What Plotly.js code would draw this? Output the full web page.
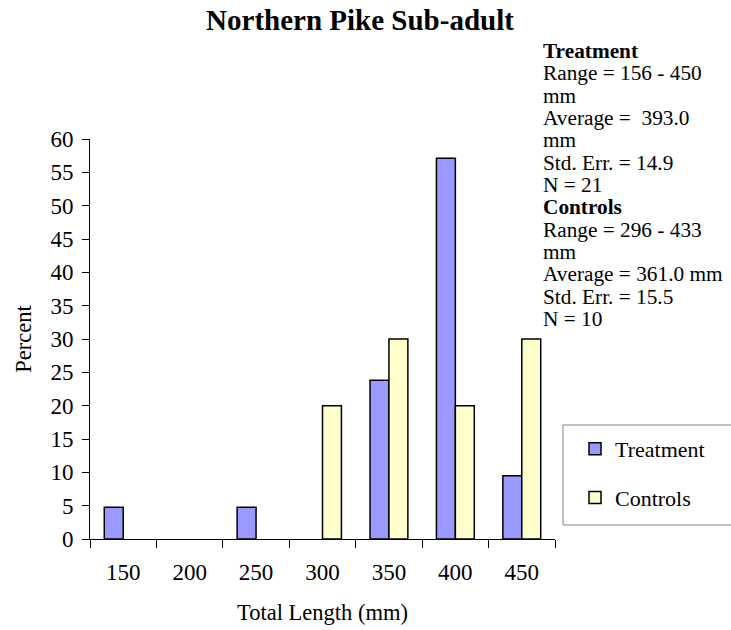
<!DOCTYPE html>
<html>
<head>
<meta charset="utf-8">
<script src="https://cdn.plot.ly/plotly-3.0.1.min.js"></script>
<style>html,body{margin:0;padding:0;background:#fff;}#chart{width:731px;height:630px;}</style>
</head>
<body>
<div id="chart"></div>
<script>
const categories = ['150', '200', '250', '300', '350', '400', '450'];
const treatment = [4.76, null, 4.76, null, 23.8, 57.1, 9.5];
const controls = [null, null, null, 20, 30, 20, 30];
const yTicks = [0, 5, 10, 15, 20, 25, 30, 35, 40, 45, 50, 55, 60];
const statsLines = [
  ['Treatment', true],
  ['Range = 156 - 450', false],
  ['mm', false],
  ['Average =\u00A0 393.0', false],
  ['mm', false],
  ['Std. Err. = 14.9', false],
  ['N = 21', false],
  ['Controls', true],
  ['Range = 296 - 433', false],
  ['mm', false],
  ['Average = 361.0 mm', false],
  ['Std. Err. = 15.5', false],
  ['N = 10', false]
];

const W = 731, H = 630;
const M = {l: 90, r: 176, t: 139, b: 91};
const PW = W - M.l - M.r, PH = H - M.t - M.b;
const px2x = p => (p - M.l) / PW;
const px2y = p => (H - M.b - p) / PH;
const FONT = 'Liberation Serif, Times New Roman, serif';
const LINE_PX = 22.33;

const traces = [
  {type: 'bar', name: 'Treatment', x: categories, y: treatment, legendgroup: 'a',
   marker: {color: '#9999FF', line: {color: '#000', width: 1.5}}},
  {type: 'bar', name: 'Controls', x: categories, y: controls, legendgroup: 'b',
   marker: {color: '#FFFFCC', line: {color: '#000', width: 1.5}}}
];

const statsText = statsLines.map(ln =>
  '<span style="font-size:21.3px">' + (ln[1] ? '<b>' + ln[0] + '</b>' : ln[0]) + '</span>'
).join('<br>');

const firstY = 51, lastY = firstY + (statsLines.length - 1) * LINE_PX;

const layout = {
  width: W, height: H,
  margin: M,
  paper_bgcolor: '#fff', plot_bgcolor: '#fff',
  font: {family: FONT, size: 23, color: '#000'},
  title: {text: '<b>Northern Pike Sub-adult</b>', x: 360 / W, xref: 'container', xanchor: 'center',
          y: 1 - 20 / H, yref: 'container', yanchor: 'middle',
          font: {family: FONT, size: 29, color: '#000'}},
  barmode: 'group', bargap: 0.43, bargroupgap: 0,
  xaxis: {type: 'category', tickson: 'boundaries', ticks: 'outside', ticklen: 8, tickcolor: '#000',
          showline: true, linecolor: '#000', linewidth: 1, showgrid: false, zeroline: false,
          ticklabelstandoff: 12, tickfont: {family: FONT, size: 23},
          title: {text: 'Total Length (mm)', standoff: 20, font: {family: FONT, size: 22.5}}},
  yaxis: {range: [0, 60], tickvals: yTicks, ticks: 'outside', ticklen: 7, tickcolor: '#000',
          showline: true, linecolor: '#000', linewidth: 1, showgrid: false, zeroline: false,
          ticklabelstandoff: 4, tickfont: {family: FONT, size: 23},
          title: {text: 'Percent', standoff: 12, font: {family: FONT, size: 22.5}}},
  showlegend: true,
  legend: {x: px2x(563), xanchor: 'left', y: px2y(428), yanchor: 'top',
           bgcolor: 'rgba(0,0,0,0)', borderwidth: 0, tracegroupgap: 17, indentation: 12,
           traceorder: 'grouped', font: {family: FONT, size: 22}},
  shapes: [{type: 'rect', xref: 'paper', yref: 'paper', x0: px2x(563), x1: px2x(745),
            y0: px2y(425), y1: px2y(525), line: {color: '#808080', width: 1}, fillcolor: 'rgba(0,0,0,0)'}],
  annotations: [{
    xref: 'paper', yref: 'paper', x: px2x(541), y: px2y((firstY + lastY) / 2),
    xanchor: 'left', yanchor: 'middle', align: 'left', showarrow: false,
    text: statsText,
    font: {family: FONT, size: LINE_PX / 1.3, color: '#000'}
  }]
};

Plotly.newPlot('chart', traces, layout, {staticPlot: true, displayModeBar: false});
</script>
</body>
</html>
